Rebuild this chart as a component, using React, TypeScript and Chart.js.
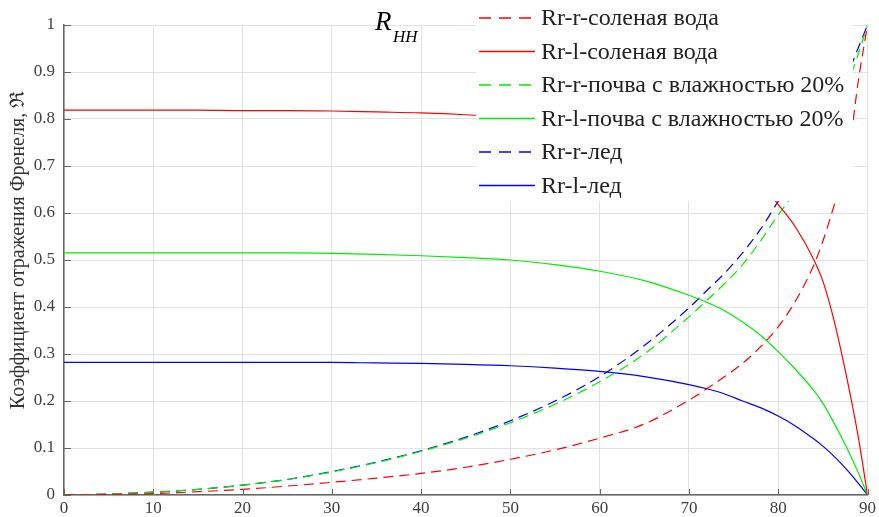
import React, { useEffect, useRef } from 'react';
import { Chart, registerables } from 'chart.js';
Chart.register(...registerables);

// Incidence angle, degrees
const angles = [0, 5, 10, 15, 20, 25, 30, 35, 40, 45, 50, 55, 60, 65, 70, 72, 74, 76, 78, 80, 82, 84, 85, 86, 87, 88, 89, 90];

// Rr-r / Rr-l for salt water
const saltRR = [0, 0.001, 0.003, 0.007, 0.012, 0.019, 0.027, 0.036, 0.046, 0.059, 0.076, 0.096, 0.121, 0.151, 0.202, 0.226, 0.252, 0.28, 0.315, 0.358, 0.415, 0.49, 0.54, 0.6, 0.665, 0.745, 0.885, 1.0];
const saltRL = [0.819, 0.819, 0.819, 0.819, 0.818, 0.818, 0.817, 0.815, 0.813, 0.809, 0.803, 0.795, 0.783, 0.766, 0.742, 0.728, 0.712, 0.69, 0.662, 0.618, 0.568, 0.5, 0.455, 0.39, 0.31, 0.22, 0.12, 0];

// Rr-r / Rr-l for soil with 20% moisture
const soilRR = [0, 0.002, 0.006, 0.012, 0.021, 0.033, 0.049, 0.069, 0.093, 0.121, 0.154, 0.193, 0.241, 0.3, 0.379, 0.414, 0.45, 0.49, 0.54, 0.596, 0.648, 0.71, 0.745, 0.785, 0.83, 0.886, 0.94, 1.0];
const soilRL = [0.515, 0.515, 0.515, 0.515, 0.515, 0.515, 0.514, 0.512, 0.509, 0.505, 0.5, 0.49, 0.476, 0.456, 0.425, 0.41, 0.392, 0.368, 0.34, 0.305, 0.266, 0.222, 0.195, 0.162, 0.126, 0.088, 0.046, 0];

// Rr-r / Rr-l for ice
const iceRR = [0, 0.002, 0.006, 0.012, 0.021, 0.033, 0.05, 0.07, 0.094, 0.123, 0.158, 0.2, 0.252, 0.318, 0.398, 0.435, 0.472, 0.515, 0.565, 0.625, 0.684, 0.751, 0.787, 0.824, 0.864, 0.906, 0.953, 1.0];
const iceRL = [0.282, 0.282, 0.282, 0.282, 0.282, 0.282, 0.282, 0.281, 0.28, 0.278, 0.275, 0.27, 0.263, 0.252, 0.235, 0.226, 0.215, 0.2, 0.186, 0.168, 0.146, 0.119, 0.104, 0.087, 0.068, 0.047, 0.024, 0];

const seriesLabels = [
  'Rr-r-соленая вода',
  'Rr-l-соленая вода',
  'Rr-r-почва с влажностью 20%',
  'Rr-l-почва с влажностью 20%',
  'Rr-r-лед',
  'Rr-l-лед',
];
const seriesValues = [saltRR, saltRL, soilRR, soilRL, iceRR, iceRL];
const seriesColors = ['#ff0000', '#ff0000', '#00ee00', '#00ee00', '#0000ff', '#0000ff'];
const seriesDashed = [true, false, true, false, true, false];

const xTicks = [0, 10, 20, 30, 40, 50, 60, 70, 80, 90];
const yTicks = [0, 0.1, 0.2, 0.3, 0.4, 0.5, 0.6, 0.7, 0.8, 0.9, 1];
const yTitle = 'Коэффициент отражения Френеля, ℜ';
const plotTitle = 'R';
const plotTitleSub = 'HH';

const SERIF = "'Liberation Serif', 'Times New Roman', 'DejaVu Serif', serif";

const decor = {
  id: 'decor',
  afterDatasetsDraw(chart: any) {
    const { ctx, chartArea: a, scales } = chart;
    ctx.save();
    ctx.strokeStyle = '#666';
    ctx.lineWidth = 1;
    for (const v of yTicks) {
      const y = Math.round(scales.y.getPixelForValue(v)) + 0.5;
      ctx.beginPath();
      ctx.moveTo(a.left, y);
      ctx.lineTo(a.left + 7, y);
      ctx.stroke();
    }
    for (const v of xTicks) {
      const x = Math.round(scales.x.getPixelForValue(v)) + 0.5;
      ctx.beginPath();
      ctx.moveTo(x, a.bottom);
      ctx.lineTo(x, a.bottom - 6);
      ctx.stroke();
    }
    ctx.restore();
  },
  afterDraw(chart: any) {
    const { ctx } = chart;
    ctx.save();
    // legend box
    ctx.fillStyle = '#ffffff';
    ctx.fillRect(476, 0, 377, 201);
    ctx.font = `24px ${SERIF}`;
    ctx.textBaseline = 'middle';
    ctx.textAlign = 'left';
    seriesLabels.forEach((lab, i) => {
      const y = 18 + i * 33.5;
      ctx.strokeStyle = seriesColors[i];
      ctx.lineWidth = 1.3;
      ctx.setLineDash(seriesDashed[i] ? [12, 8] : []);
      ctx.beginPath();
      ctx.moveTo(479, y);
      ctx.lineTo(535, y);
      ctx.stroke();
      ctx.setLineDash([]);
      ctx.fillStyle = '#222';
      ctx.fillText(lab, 541, y + 1);
    });
    // plot title R_HH
    ctx.fillStyle = '#000';
    ctx.textBaseline = 'alphabetic';
    ctx.font = `italic 27px ${SERIF}`;
    ctx.fillText(plotTitle, 375, 30);
    ctx.font = `italic 17px ${SERIF}`;
    ctx.fillText(plotTitleSub, 393, 42);
    // y-axis title
    ctx.translate(19, 250);
    ctx.rotate(-Math.PI / 2);
    ctx.textAlign = 'center';
    ctx.textBaseline = 'middle';
    ctx.font = `20px ${SERIF}`;
    ctx.fillStyle = '#333';
    ctx.fillText(yTitle, 0, 0);
    ctx.restore();
  },
};

export default function App() {
  const ref = useRef<HTMLCanvasElement | null>(null);
  useEffect(() => {
    if (!ref.current) return;
    const datasets = seriesLabels.map((lab, i) => ({
      label: lab,
      data: angles.map((a, k) => ({ x: a, y: seriesValues[i][k] })),
      borderColor: seriesColors[i],
      backgroundColor: seriesColors[i],
      borderWidth: 1.2,
      borderDash: seriesDashed[i] ? [10, 6] : [],
      pointRadius: 0,
      cubicInterpolationMode: 'monotone' as const,
      fill: false,
    }));
    const chart = new Chart(ref.current, {
      type: 'line',
      data: { datasets },
      options: {
        animation: false,
        responsive: false,
        maintainAspectRatio: false,
        layout: { padding: { top: 25, right: 10, left: 0, bottom: 0 } },
        plugins: { legend: { display: false }, tooltip: { enabled: false }, title: { display: false } },
        scales: {
          x: {
            type: 'linear',
            min: 0,
            max: 90,
            afterFit: (s: any) => { s.height = 22; },
            ticks: { stepSize: 10, padding: 3, color: '#404040', font: { family: SERIF, size: 17 }, maxRotation: 0 },
            grid: { color: '#e2e2e2', lineWidth: 1, drawTicks: false },
            border: { display: true, color: '#666', width: 1.5 },
          },
          y: {
            type: 'linear',
            min: 0,
            max: 1,
            afterFit: (s: any) => { s.width = 64; },
            ticks: {
              stepSize: 0.1,
              padding: 9,
              color: '#404040',
              font: { family: SERIF, size: 17 },
              callback: (v: any) => String(Math.round(Number(v) * 10) / 10),
            },
            grid: { color: '#e2e2e2', lineWidth: 1, drawTicks: false },
            border: { display: true, color: '#666', width: 1.5 },
          },
        },
      },
      plugins: [decor],
    });
    return () => chart.destroy();
  }, []);
  return (
    <div style={{ position: 'fixed', left: 0, top: 0, width: 879, height: 517, background: '#fff' }}>
      <canvas ref={ref} width={879} height={517} style={{ display: 'block' }} />
    </div>
  );
}
